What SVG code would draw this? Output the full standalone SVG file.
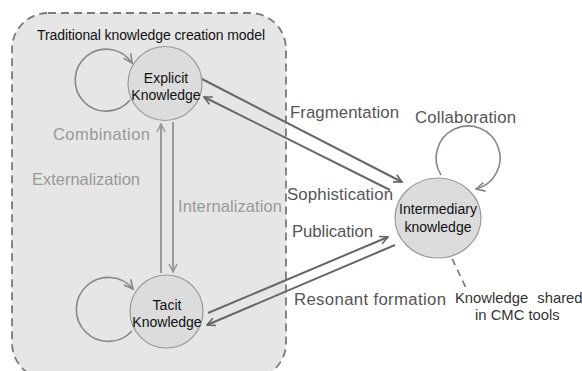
<svg xmlns="http://www.w3.org/2000/svg" width="582" height="371" viewBox="0 0 582 371">
<style>
.t{font-family:"Liberation Sans",Arial,sans-serif}
.node{fill:#dcdcdc;stroke:#999;stroke-width:1.2}
.nl{font-size:14px;fill:#111;text-anchor:middle}
.lg{font-size:16.5px;fill:#999}
.ld{font-size:16.8px;fill:#555}
.c{fill:none;stroke:#666;stroke-width:2}
.cv{fill:none;stroke:#9a9a9a;stroke-width:2}
.lp{fill:none;stroke:#888;stroke-width:1.6}
</style>
<defs>
<marker id="ad" viewBox="0 0 10 10" refX="9" refY="5" markerWidth="10" markerHeight="10" markerUnits="userSpaceOnUse" orient="auto"><path d="M1,1 L9,5 L1,9" fill="none" stroke="#666" stroke-width="1.6"/></marker>
<marker id="av" viewBox="0 0 10 10" refX="9" refY="5" markerWidth="10" markerHeight="10" markerUnits="userSpaceOnUse" orient="auto"><path d="M1,1 L9,5 L1,9" fill="none" stroke="#9a9a9a" stroke-width="1.6"/></marker>
<marker id="al" viewBox="0 0 10 10" refX="9" refY="5" markerWidth="11" markerHeight="11" markerUnits="userSpaceOnUse" orient="auto"><path d="M1,1 L9,5 L1,9" fill="none" stroke="#888" stroke-width="1.5"/></marker>
</defs>
<rect width="582" height="371" fill="#fff"/>
<g id="model-frame">
<rect x="12" y="13" width="274" height="366" rx="36" ry="36" fill="#e6e6e6" stroke="#7a7a7a" stroke-width="1.8" stroke-dasharray="8,5"/>
<text class="t" x="37" y="40" font-size="14" fill="#111" textLength="228" lengthAdjust="spacing">Traditional knowledge creation model</text>
</g>
<g id="connectors">
<path class="lp" d="M130,100 A31,31 0 1 1 132,63" marker-end="url(#al)"/>
<path class="lp" d="M132,331 A32,32 0 1 1 133,289" marker-end="url(#al)"/>
<path class="lp" d="M441,175 A32,32 0 1 1 476,189" marker-end="url(#al)"/>
<path class="cv" d="M161,273 L161,124" marker-end="url(#av)"/>
<path class="cv" d="M173,122 L173,272" marker-end="url(#av)"/>
<path class="c" d="M202,79 L402,182" marker-end="url(#ad)"/>
<path class="c" d="M390,190 L204,97" marker-end="url(#ad)"/>
<path class="c" d="M208,313 L388,237" marker-end="url(#ad)"/>
<path class="c" d="M395,245 L207,325" marker-end="url(#ad)"/>
<path d="M447,248 L467,290" fill="none" stroke="#777" stroke-width="1.6" stroke-dasharray="7,5"/>
</g>
<g id="node-explicit">
<circle class="node" cx="165" cy="83.5" r="37"/>
<text class="t nl" x="166" y="83">Explicit</text>
<text class="t nl" x="166" y="100">Knowledge</text>
</g>
<g id="node-tacit">
<circle class="node" cx="166.5" cy="311.5" r="36.5"/>
<text class="t nl" x="167" y="310">Tacit</text>
<text class="t nl" x="167" y="327">Knowledge</text>
</g>
<g id="node-intermediary">
<ellipse class="node" cx="438" cy="218" rx="43" ry="40"/>
<text class="t nl" x="438" y="214">Intermediary</text>
<text class="t nl" x="438" y="232">knowledge</text>
</g>
<g id="labels">
<text class="t lg" x="53" y="140" textLength="97" lengthAdjust="spacing">Combination</text>
<text class="t lg" x="32" y="185" textLength="108" lengthAdjust="spacing">Externalization</text>
<text class="t lg" x="178" y="212" textLength="104" lengthAdjust="spacing">Internalization</text>
<text class="t ld" x="290" y="118" textLength="109" lengthAdjust="spacing">Fragmentation</text>
<text class="t ld" x="415" y="123" textLength="101" lengthAdjust="spacing">Collaboration</text>
<text class="t ld" x="287" y="200" textLength="106" lengthAdjust="spacing">Sophistication</text>
<text class="t ld" x="292" y="237" textLength="81" lengthAdjust="spacing">Publication</text>
<text class="t ld" x="294" y="305" textLength="152" lengthAdjust="spacing">Resonant formation</text>
<text class="t" x="455" y="303" font-size="14.8" fill="#333" word-spacing="5">Knowledge shared</text>
<text class="t" x="475" y="320" font-size="14.8" fill="#333">in CMC tools</text>
</g>
</svg>
